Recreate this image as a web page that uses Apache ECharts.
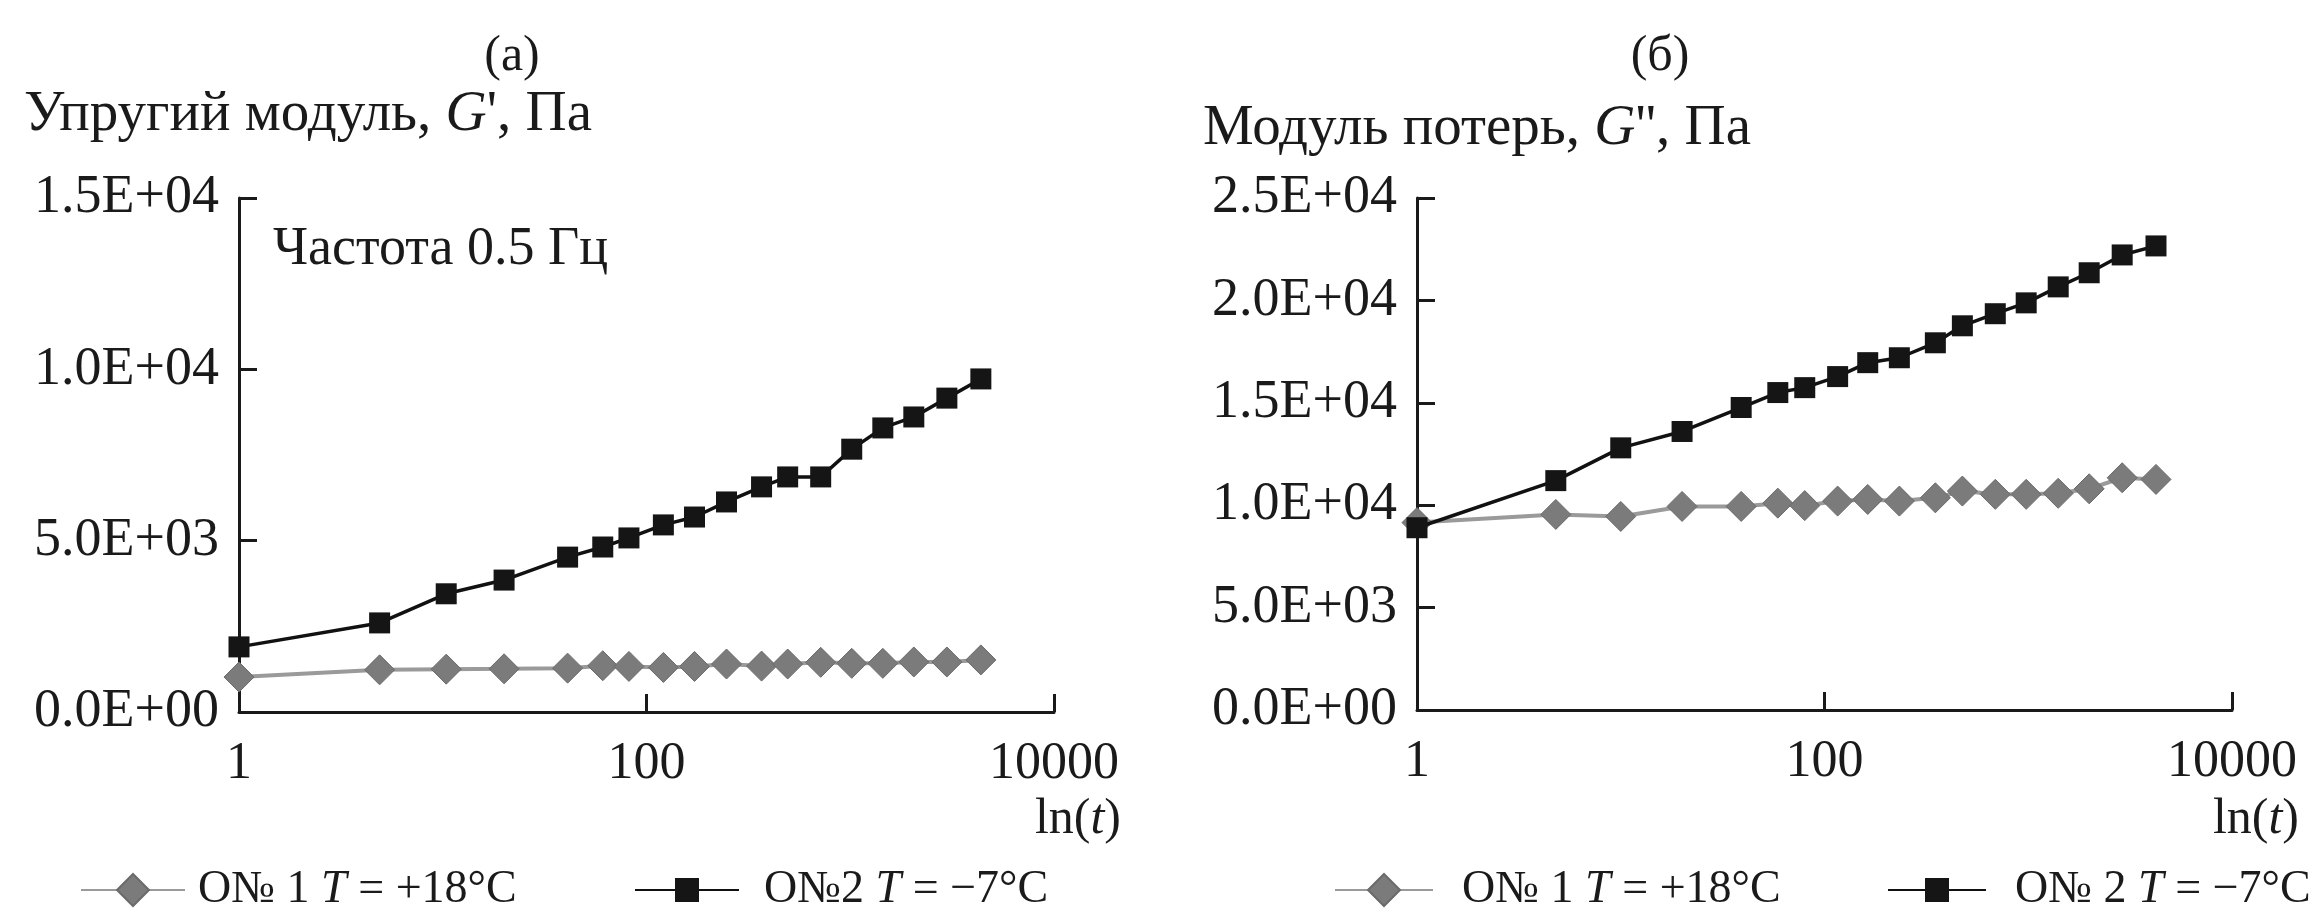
<!DOCTYPE html>
<html><head><meta charset="utf-8">
<script src="https://cdn.jsdelivr.net/npm/echarts@6/dist/echarts.min.js"></script>
<style>html,body{margin:0;padding:0;background:#fff}#c{width:2313px;height:914px}</style>
</head><body><div id="c"></div>
<script>
// time (s) read along the log x axis
const timeA = [1, 4.9, 10.4, 20, 41, 61, 82, 121, 172, 247, 367, 493, 716, 1017, 1445, 2051, 2980, 4375];
const timeB = [1, 4.8, 10, 20, 39, 59, 80, 116, 163, 233, 350, 475, 689, 977, 1403, 1991, 2891, 4236];
// (а) storage modulus G', Pa
const gPrimeON1 = [1020, 1230, 1250, 1260, 1280, 1350, 1330, 1300, 1330, 1400, 1340, 1400, 1450, 1420, 1420, 1460, 1460, 1520];
const gPrimeON2 = [1900, 2600, 3450, 3850, 4520, 4815, 5080, 5460, 5690, 6130, 6570, 6860, 6860, 7670, 8290, 8610, 9160, 9720];
// (б) loss modulus G'', Pa
const gDoubleON1 = [9150, 9550, 9450, 9940, 9940, 10100, 9980, 10200, 10280, 10200, 10360, 10690, 10530, 10530, 10580, 10800, 11340, 11260];
const gDoubleON2 = [8900, 11200, 12800, 13600, 14770, 15500, 15740, 16280, 16960, 17200, 17930, 18760, 19350, 19880, 20660, 21350, 22220, 22660];
// tick labels
const xTickValues = [1, 100, 10000];
const xTickLabels = ['1', '100', '10000'];
const yTickValuesA = [0, 5000, 10000, 15000];
const yTickLabelsA = ['0.0E+00', '5.0E+03', '1.0E+04', '1.5E+04'];
const yTickValuesB = [0, 5000, 10000, 15000, 20000, 25000];
const yTickLabelsB = ['0.0E+00', '5.0E+03', '1.0E+04', '1.5E+04', '2.0E+04', '2.5E+04'];
// legend labels: [prefix, italic, suffix]
const legendParts = {
  a1: ['О№ 1 ', 'T', ' = +18°C'],
  a2: ['О№2 ', 'T', ' = −7°C'],
  b1: ['О№ 1 ', 'T', ' = +18°C'],
  b2: ['О№ 2 ', 'T', ' = −7°C']
};

const FONT = "'Liberation Serif', 'DejaVu Serif', serif";
const INK = '#1a1a1a';
const chart = echarts.init(document.getElementById('c'), null, {renderer: 'canvas'});

function pairs(xs, ys) { return xs.map((x, i) => [x, ys[i]]); }
function lookup(vals, labs) { return v => { for (let i = 0; i < vals.length; i++) if (Math.abs(v - vals[i]) < 1e-6 * Math.max(1, vals[i])) return labs[i]; return ''; }; }

function xAxis(gi) {
  return {
    type: 'log', logBase: 10, gridIndex: gi, min: 1, max: 10000, interval: 2,
    axisLine: {lineStyle: {color: INK, width: 3}},
    axisTick: {inside: true, length: 18, lineStyle: {color: INK, width: 3}},
    axisLabel: {color: INK, fontFamily: FONT, fontSize: 52, margin: 26, formatter: lookup(xTickValues, xTickLabels)},
    splitLine: {show: false}, minorTick: {show: false}
  };
}
function yAxis(gi, max, vals, labs) {
  return {
    type: 'value', gridIndex: gi, min: 0, max: max, interval: 5000,
    axisLine: {show: true, lineStyle: {color: INK, width: 3}},
    axisTick: {show: true, inside: true, length: 18, lineStyle: {color: INK, width: 3}},
    axisLabel: {color: INK, fontFamily: FONT, fontSize: 54, margin: 20, padding: [16, 0, 0, 0], formatter: lookup(vals, labs)},
    splitLine: {show: false}
  };
}
function greySeries(name, gi, data) {
  return {
    name: name, type: 'line', xAxisIndex: gi, yAxisIndex: gi, data: data,
    symbol: 'diamond', symbolSize: [30, 30], clip: false,
    lineStyle: {color: '#9a9a9a', width: 4},
    itemStyle: {color: '#7b7b7b', borderColor: '#6a6a6a', borderWidth: 1},
    emphasis: {disabled: true}, z: 2
  };
}
function blackSeries(name, gi, data) {
  return {
    name: name, type: 'line', xAxisIndex: gi, yAxisIndex: gi, data: data,
    symbol: 'rect', symbolSize: 21, clip: false,
    lineStyle: {color: '#111', width: 3.5},
    itemStyle: {color: '#151515'},
    emphasis: {disabled: true}, z: 3
  };
}
function legendItem(left, name, width, height, gap) {
  return {
    left: left, top: 864, orient: 'horizontal', data: [name],
    itemWidth: width, itemHeight: height,
    textStyle: {fontFamily: FONT, fontSize: 46, color: INK, lineHeight: 52,
      rich: {i: {fontStyle: 'italic', fontFamily: FONT, fontSize: 46, color: INK}, s: {width: gap}}},
    formatter: n => { const p = legendParts[n]; return '{s|}' + p[0] + '{i|' + p[1] + '}' + p[2]; },
    selectedMode: false, padding: 0
  };
}
function text(t, size, opts) {
  return Object.assign({
    text: t,
    textStyle: {fontFamily: FONT, fontSize: size, fontWeight: 'normal', color: INK, lineHeight: size + 6,
      rich: {i: {fontStyle: 'italic', fontFamily: FONT, fontSize: size, color: INK}}},
    padding: 0
  }, opts);
}

chart.setOption({
  backgroundColor: '#ffffff',
  animation: false,
  title: [
    text('(а)', 50, {left: 512, top: 29, textAlign: 'center'}),
    text('(б)', 50, {left: 1660, top: 29, textAlign: 'center'}),
    text("Упругий модуль, {i|G}', Па", 57, {left: 24, top: 84}),
    text("Модуль потерь, {i|G}'', Па", 57, {left: 1203, top: 98}),
    text('Частота 0.5 Гц', 54, {left: 273, top: 220}),
    text('ln({i|t})', 50, {right: 1192, top: 792}),
    text('ln({i|t})', 50, {right: 14, top: 792})
  ],
  grid: [
    {left: 239, top: 198, width: 815, height: 514, containLabel: false},
    {left: 1417, top: 198, width: 815, height: 512, containLabel: false}
  ],
  legend: [
    legendItem(80, 'a1', 104, 40, 8),
    legendItem(634, 'a2', 104, 30, 20),
    legendItem(1334, 'b1', 98, 40, 24),
    legendItem(1887, 'b2', 98, 30, 24)
  ],
  xAxis: [xAxis(0), xAxis(1)],
  yAxis: [yAxis(0, 15000, yTickValuesA, yTickLabelsA), yAxis(1, 25000, yTickValuesB, yTickLabelsB)],
  series: [
    greySeries('a1', 0, pairs(timeA, gPrimeON1)),
    blackSeries('a2', 0, pairs(timeA, gPrimeON2)),
    greySeries('b1', 1, pairs(timeB, gDoubleON1)),
    blackSeries('b2', 1, pairs(timeB, gDoubleON2))
  ]
});
</script>
</body></html>
